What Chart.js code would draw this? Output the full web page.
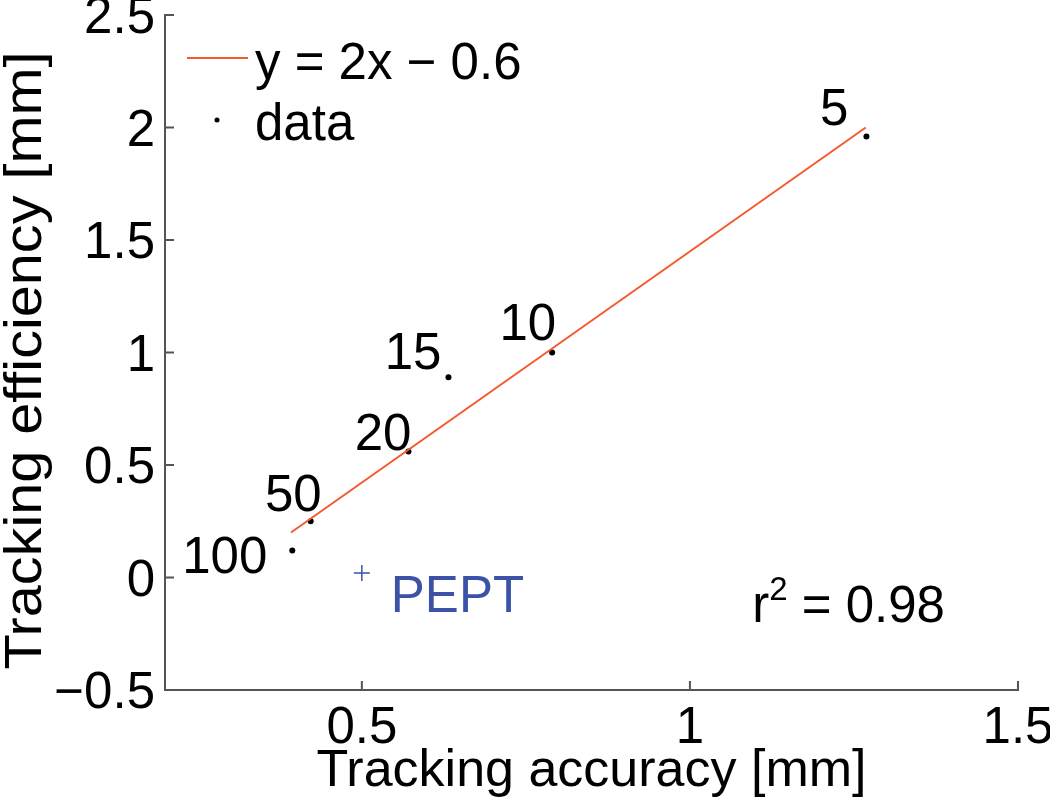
<!DOCTYPE html>
<html>
<head>
<meta charset="utf-8">
<script src="https://cdn.jsdelivr.net/npm/chart.js@4.4.1/dist/chart.umd.min.js"></script>
<style>
  html, body { margin: 0; padding: 0; background: #fff; }
  canvas { display: block; }
</style>
</head>
<body>
<canvas id="chart" width="1050" height="800"></canvas>
<script>
// values
const pointLabels = ['100', '50', '20', '15', '10', '5'];
const accuracy = [0.394, 0.422, 0.571, 0.632, 0.790, 1.269];
const efficiency = [0.12, 0.25, 0.56, 0.89, 1.00, 1.96];
const fitX = [0.392, 1.268];
const fitY = [0.20, 2.00];
const peptX = [0.50];
const peptY = [0.02];
const xTicks = [0.5, 1, 1.5];
const yTicks = [-0.5, 0, 0.5, 1, 1.5, 2, 2.5];

const FONT = "'Liberation Sans', Arial, Helvetica, sans-serif";
const FS = 51;
const AXIS = '#555555';
const FIT = '#f6582f';
const BLUE = '#3b52a8';

// label offsets in px (text right edge / baseline relative to the point)
const labelOffsets = [[-25, 22], [11, -10], [3, -2], [-7, -8], [4, -13], [-18, -12]];

const toPts = (xs, ys) => xs.map((x, i) => ({ x: x, y: ys[i] }));

const fmt = v => (v < 0 ? '\u2212' + Math.abs(v) : String(v));

const extras = {
    id: 'extras',
    afterDraw(chart) {
        const ctx = chart.ctx;
        const xs = chart.scales.x, ys = chart.scales.y;
        const area = chart.chartArea;
        ctx.save();

        // inward tick marks
        ctx.strokeStyle = AXIS;
        ctx.lineWidth = 2;
        ctx.beginPath();
        xTicks.forEach(v => {
            const px = xs.getPixelForValue(v);
            ctx.moveTo(px, area.bottom);
            ctx.lineTo(px, area.bottom - 9);
        });
        yTicks.forEach(v => {
            const py = ys.getPixelForValue(v);
            ctx.moveTo(area.left, py);
            ctx.lineTo(area.left + 9, py);
        });
        ctx.stroke();

        // y axis title (figure was stretched vertically, so stretch along the text)
        ctx.save();
        ctx.translate(27, (area.top + area.bottom) / 2 + 8);
        ctx.rotate(-Math.PI / 2);
        ctx.scale(1.13, 1);
        ctx.font = FS + 'px ' + FONT;
        ctx.fillStyle = '#000';
        ctx.textAlign = 'center';
        ctx.textBaseline = 'middle';
        ctx.fillText('Tracking efficiency [mm]', 0, 0);
        ctx.restore();

        // point labels
        ctx.font = FS + 'px ' + FONT;
        ctx.fillStyle = '#000';
        ctx.textAlign = 'right';
        ctx.textBaseline = 'alphabetic';
        pointLabels.forEach((t, i) => {
            const px = xs.getPixelForValue(accuracy[i]);
            const py = ys.getPixelForValue(efficiency[i]);
            ctx.fillText(t, px + labelOffsets[i][0], py + labelOffsets[i][1]);
        });

        // PEPT label
        ctx.fillStyle = BLUE;
        ctx.textAlign = 'left';
        ctx.fillText('PEPT', xs.getPixelForValue(peptX[0]) + 29, ys.getPixelForValue(peptY[0]) + 39);

        // r^2 annotation
        ctx.fillStyle = '#000';
        let rx = xs.getPixelForValue(1.095);
        const ry = ys.getPixelForValue(-0.197);
        ctx.fillText('r', rx, ry);
        rx += ctx.measureText('r').width;
        ctx.font = '33px ' + FONT;
        ctx.fillText('2', rx, ry - 22);
        rx += ctx.measureText('2').width;
        ctx.font = FS + 'px ' + FONT;
        ctx.fillText(' = 0.98', rx, ry);

        // legend
        const ds = chart.data.datasets;
        ctx.strokeStyle = ds[0].borderColor;
        ctx.lineWidth = 2;
        ctx.beginPath();
        ctx.moveTo(area.left + 22, area.top + 43);
        ctx.lineTo(area.left + 83, area.top + 43);
        ctx.stroke();
        ctx.fillStyle = '#000';
        ctx.beginPath();
        ctx.arc(area.left + 52, area.top + 105, 2.5, 0, Math.PI * 2);
        ctx.fill();
        ctx.fillText(ds[0].label, area.left + 90, area.top + 64);
        ctx.fillText(ds[1].label, area.left + 90, area.top + 125);

        ctx.restore();
    }
};

new Chart(document.getElementById('chart'), {
    type: 'scatter',
    data: {
        datasets: [
            {
                type: 'line',
                label: 'y = 2x \u2212 0.6',
                data: toPts(fitX, fitY),
                borderColor: FIT,
                borderWidth: 2,
                pointRadius: 0,
                fill: false
            },
            {
                label: 'data',
                data: toPts(accuracy, efficiency),
                backgroundColor: '#000',
                borderColor: '#000',
                pointRadius: 3,
                borderWidth: 0
            },
            {
                label: 'PEPT',
                data: toPts(peptX, peptY),
                pointStyle: 'cross',
                borderColor: BLUE,
                borderWidth: 1.5,
                pointRadius: 8
            }
        ]
    },
    options: {
        responsive: false,
        animation: false,
        layout: { padding: { top: 15, right: 32, left: 0, bottom: 0 } },
        plugins: {
            legend: { display: false },
            tooltip: { enabled: false }
        },
        scales: {
            x: {
                type: 'linear',
                min: 0.2,
                max: 1.5,
                afterBuildTicks: s => { s.ticks = xTicks.map(v => ({ value: v })); },
                afterFit: s => { s.height = 110; s.paddingLeft = 0; s.paddingRight = 0; },
                grid: { display: false, drawTicks: false },
                border: { display: true, color: AXIS, width: 2 },
                ticks: {
                    padding: 8,
                    color: '#000',
                    font: { family: FONT, size: FS },
                    callback: v => fmt(v),
                    maxRotation: 0
                },
                title: {
                    display: true,
                    text: 'Tracking accuracy [mm]',
                    color: '#000',
                    font: { family: FONT, size: 52, lineHeight: 1.1 },
                    padding: { top: 0, bottom: 0 }
                }
            },
            y: {
                type: 'linear',
                min: -0.5,
                max: 2.5,
                afterBuildTicks: s => { s.ticks = yTicks.map(v => ({ value: v })); },
                afterFit: s => { s.width = 165; s.paddingTop = 0; s.paddingBottom = 0; },
                grid: { display: false, drawTicks: false },
                border: { display: true, color: AXIS, width: 2 },
                ticks: {
                    padding: 10,
                    labelOffset: 4,
                    color: '#000',
                    font: { family: FONT, size: FS },
                    callback: v => fmt(v)
                },
                title: { display: false }
            }
        }
    },
    plugins: [extras]
});
</script>
</body>
</html>
